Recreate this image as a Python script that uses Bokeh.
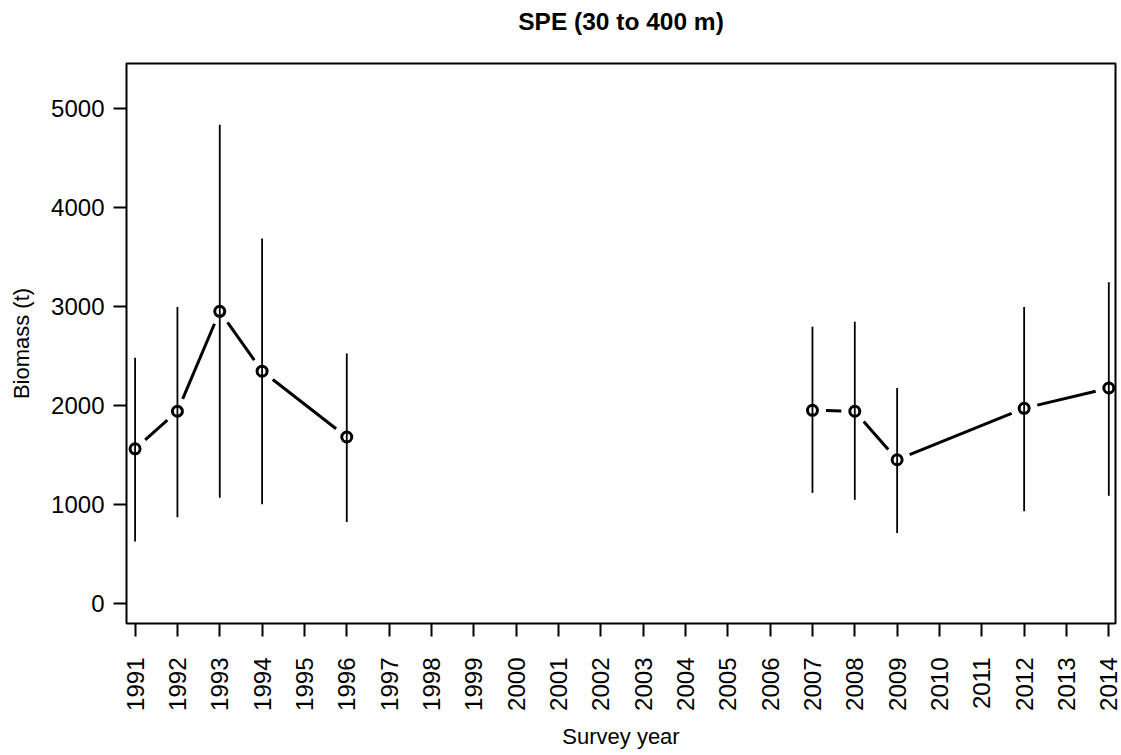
import math
from bokeh.plotting import figure
from bokeh.models import Range1d, FixedTicker, Title
from bokeh.embed import file_html
from bokeh.resources import INLINE

# ---- data ----
years = [1991, 1992, 1993, 1994, 1996, 2007, 2008, 2009, 2012, 2014]
biomass = [1560, 1940, 2950, 2345, 1680, 1950, 1940, 1450, 1970, 2175]
lower = [625, 870, 1065, 1000, 820, 1115, 1045, 710, 930, 1085]
upper = [2480, 2995, 4835, 3685, 2525, 2795, 2845, 2175, 2995, 3245]
tick_years = list(range(1991, 2015))
y_ticks = [0, 1000, 2000, 3000, 4000, 5000]
break_after = 1996  # no connecting line across the survey gap

# ---- layout ----
X0, X1 = 1990.797, 2014.158
Y0, Y1 = -205, 5455
FW, FH = 989, 560
FONT = "Liberation Sans"

p = figure(
    title=None,
    frame_width=FW, frame_height=FH,
    x_range=Range1d(X0, X1), y_range=Range1d(Y0, Y1),
    output_backend="svg", toolbar_location=None,
    min_border_left=126, min_border_right=6, min_border_top=63, min_border_bottom=125,
    background_fill_color="white", border_fill_color="white",
)
# spacer (closest to the frame), then the real title above it
p.add_layout(Title(text=" ", text_font_size="1px", standoff=26,
                   text_line_height=1.0), "above")
p.add_layout(Title(text="SPE (30 to 400 m)", align="center", text_font=FONT,
                   text_font_size="24.5px", text_font_style="bold",
                   text_color="black", text_line_height=1.0, standoff=0), "above")

p.outline_line_color = "black"
p.outline_line_width = 2
p.xgrid.grid_line_color = None
p.ygrid.grid_line_color = None

for ax in (p.xaxis[0], p.yaxis[0]):
    ax.axis_line_color = None
    ax.major_tick_line_color = "black"
    ax.major_tick_line_width = 2
    ax.major_tick_out = 13
    ax.major_tick_in = 0
    ax.minor_tick_line_color = None
    ax.major_label_text_font = FONT
    ax.major_label_text_font_size = "24px"
    ax.major_label_text_color = "black"
    ax.major_label_text_line_height = 1.0
    ax.axis_label_text_font = FONT
    ax.axis_label_text_font_size = "22px"
    ax.axis_label_text_font_style = "normal"
    ax.axis_label_text_color = "black"

p.xaxis.ticker = FixedTicker(ticks=tick_years)
p.xaxis.major_label_orientation = math.pi / 2
p.xaxis.major_label_standoff = 21
p.xaxis.axis_label = "Survey year"
p.xaxis.axis_label_standoff = 10

p.yaxis.ticker = FixedTicker(ticks=y_ticks)
p.yaxis.major_label_standoff = 9
p.yaxis.axis_label = "Biomass (t)"
p.yaxis.axis_label_standoff = 14

# ---- error bars ----
p.segment(x0=years, y0=lower, x1=years, y1=upper, line_color="black", line_width=1.8)

# ---- connecting lines with gaps around points (R type="b") ----
gap = 13.5
sx = FW / (X1 - X0)
sy = FH / (Y1 - Y0)
sx0, sy0, sx1, sy1 = [], [], [], []
for i in range(len(years) - 1):
    if years[i] == break_after:
        continue
    xa, ya, xb, yb = years[i], biomass[i], years[i + 1], biomass[i + 1]
    dxp, dyp = (xb - xa) * sx, (yb - ya) * sy
    L = math.hypot(dxp, dyp)
    if L <= 2 * gap:
        continue
    f = gap / L
    sx0.append(xa + (xb - xa) * f)
    sy0.append(ya + (yb - ya) * f)
    sx1.append(xb - (xb - xa) * f)
    sy1.append(yb - (yb - ya) * f)
p.segment(x0=sx0, y0=sy0, x1=sx1, y1=sy1, line_color="black", line_width=3)

# ---- points ----
p.scatter(years, biomass, marker="circle", size=10, fill_color=None,
          line_color="black", line_width=3)

open("out.html", "w").write(file_html(p, INLINE))
